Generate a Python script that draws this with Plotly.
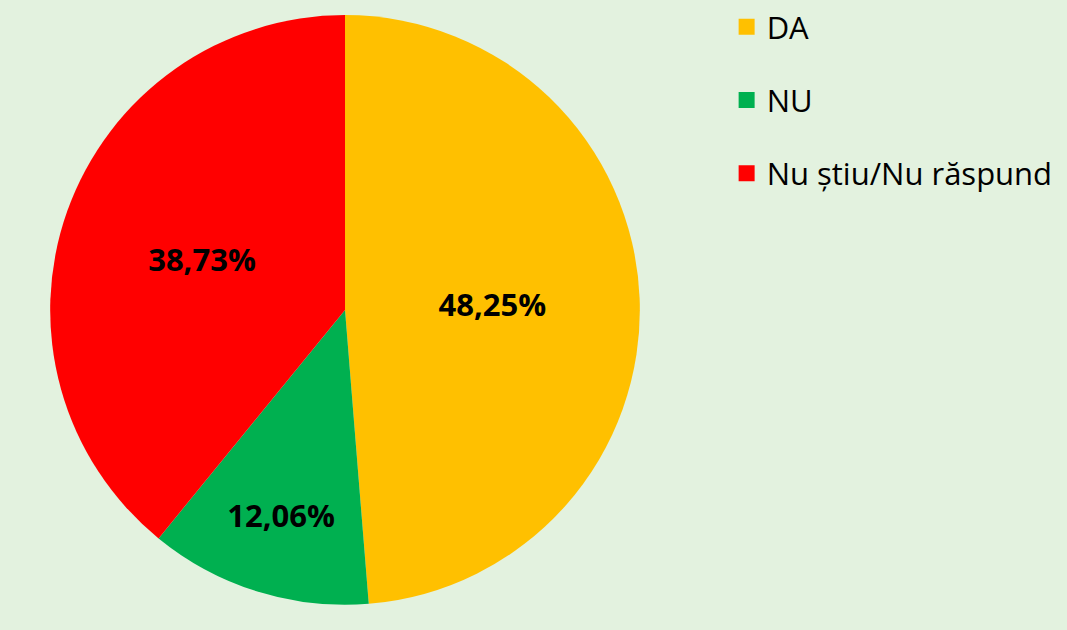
import plotly.graph_objects as go

categories = ["DA", "NU", "Nu știu/Nu răspund"]
values = [48.25, 12.06, 38.73]
colors = ["#FFC000", "#00B050", "#FF0000"]
value_labels = [f"{v:.2f}".replace(".", ",") + "%" for v in values]

fig = go.Figure()
fig.add_trace(go.Pie(
    labels=categories,
    values=values,
    text=value_labels,
    texttemplate="<b>%{text}</b>",
    textposition="inside",
    insidetextorientation="horizontal",
    textfont=dict(family="Open Sans", size=31, color="#000000"),
    marker=dict(colors=colors, line=dict(width=0)),
    sort=False,
    direction="clockwise",
    rotation=0,
    showlegend=False,
    hoverinfo="label+percent",
    domain=dict(x=[0.0469, 0.5998], y=[0.040, 0.976]),
))

for cat, col in zip(categories, colors):
    fig.add_trace(go.Scatter(
        x=[None], y=[None], mode="markers", name=cat,
        legendgroup=cat,
        marker=dict(symbol="square", size=20, color=col),
    ))

fig.update_layout(
    width=1067, height=630,
    margin=dict(l=0, r=0, t=0, b=0),
    paper_bgcolor="#E3F2DF",
    plot_bgcolor="#E3F2DF",
    xaxis=dict(visible=False),
    yaxis=dict(visible=False),
    legend=dict(
        x=0.681, y=1.0, xanchor="left", yanchor="top",
        font=dict(family="Open Sans", size=31, color="#000000"),
        tracegroupgap=30,
        itemwidth=30,
        bgcolor="rgba(0,0,0,0)",
    ),
)

fig.write_html(
    "out.html",
    config={"displayModeBar": False},
    post_script="document.body.style.margin='0';document.body.style.background='#E3F2DF';",
)
